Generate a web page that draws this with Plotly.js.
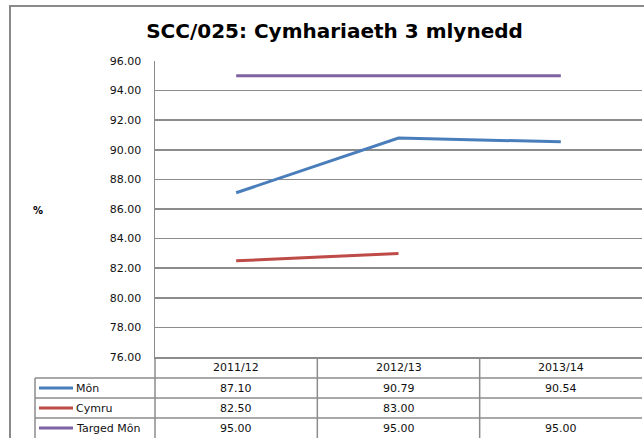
<!DOCTYPE html>
<html>
<head>
<meta charset="utf-8">
<script src="https://cdn.plot.ly/plotly-3.0.1.min.js"></script>
<style>
  html, body { margin: 0; padding: 0; background: #fff; }
  #chart { width: 644px; height: 438px; }
</style>
</head>
<body>
<div id="chart"></div>
<script>
// ---- data ----
const categories = ['2011/12', '2012/13', '2013/14'];
const monValues = [87.10, 90.79, 90.54];
const cymruValues = [82.50, 83.00, null];
const targedValues = [95.00, 95.00, 95.00];
const seriesNames = ['Môn', 'Cymru', 'Targed Môn'];
const chartTitle = 'SCC/025: Cymhariaeth 3 mlynedd';
const yAxisLabel = '%';

// ---- styles / geometry ----
const seriesColors = ['#4a7ebb', '#be4b48', '#7f62a1'];
const gridColor = '#8c8c8c';
const W = 644, H = 438;
const L = 155, R = 642, T = 61, B = 357;
const px = x => (x - L) / (R - L);
const py = y => (B - y) / (B - T);
const font = 'DejaVu Sans, Verdana, sans-serif';

const seriesValues = [monValues, cymruValues, targedValues];

const traces = seriesValues.map((vals, i) => ({
  type: 'scatter',
  mode: 'lines',
  x: categories,
  y: vals,
  name: seriesNames[i],
  line: { color: seriesColors[i], width: 3 },
  connectgaps: false,
  hoverinfo: 'skip'
}));

// table geometry (pixels)
const headerTop = B, headerBottom = 378;
const rowBounds = [[378, 398], [398, 418], [418, 438]];
const legendLeft = 35;

const shapes = [];
const annotations = [];
const lineStyle = { color: gridColor, width: 1.5 };

// outer chart border
shapes.push({ type: 'rect', xref: 'paper', yref: 'paper',
  x0: px(10), x1: px(720), y0: py(520), y1: py(6),
  line: { color: '#8a8a8a', width: 2 }, fillcolor: 'rgba(0,0,0,0)', layer: 'below' });

// horizontal table lines
rowBounds.forEach(([top, bottom]) => {
  shapes.push({ type: 'line', xref: 'paper', yref: 'paper',
    x0: px(legendLeft), x1: px(R), y0: py(top), y1: py(top), line: lineStyle });
});
// vertical lines: plot-left continuation and column boundaries
const nCat = categories.length;
for (let k = 0; k < nCat; k++) {
  shapes.push({ type: 'line', xref: 'paper', yref: 'paper',
    x0: k / nCat, x1: k / nCat, y0: py(headerTop), y1: py(440), line: lineStyle });
}
// legend column left border
shapes.push({ type: 'line', xref: 'paper', yref: 'paper',
  x0: px(legendLeft), x1: px(legendLeft), y0: py(headerBottom), y1: py(440), line: lineStyle });

const tableFont = { family: font, size: 11, color: '#111' };

// header cells (category labels)
categories.forEach(c => {
  annotations.push({ x: c, xref: 'x', y: py((headerTop + headerBottom) / 2), yref: 'paper',
    text: c, showarrow: false, xanchor: 'center', yanchor: 'middle', font: tableFont });
});

// data rows
seriesValues.forEach((vals, i) => {
  const yc = py((rowBounds[i][0] + rowBounds[i][1]) / 2);
  // legend key
  shapes.push({ type: 'line', xref: 'paper', yref: 'paper',
    x0: px(39), x1: px(73), y0: yc, y1: yc,
    line: { color: seriesColors[i], width: 3 } });
  annotations.push({ x: px(74), xref: 'paper', y: yc, yref: 'paper',
    text: seriesNames[i], showarrow: false, xanchor: 'left', yanchor: 'middle', font: tableFont });
  vals.forEach((v, j) => {
    if (v === null) return;
    annotations.push({ x: categories[j], xref: 'x', y: yc, yref: 'paper',
      text: v.toFixed(2), showarrow: false, xanchor: 'center', yanchor: 'middle', font: tableFont });
  });
});

// y-axis label
annotations.push({ x: px(37.5), xref: 'paper', y: py(210), yref: 'paper', text: yAxisLabel,
  showarrow: false, xanchor: 'center', yanchor: 'middle',
  font: { family: font, size: 10, color: '#000', weight: 700 } });

const layout = {
  width: W, height: H,
  margin: { l: L, r: W - R, t: T, b: H - B, pad: 0 },
  paper_bgcolor: '#fff', plot_bgcolor: '#fff',
  showlegend: false,
  title: { text: chartTitle, xref: 'container', x: 334.5 / W, xanchor: 'center',
    yref: 'container', y: 1 - 31 / H, yanchor: 'middle',
    font: { family: font, size: 20, weight: 700, color: '#000' } },
  xaxis: { type: 'category', range: [-0.5, 2.5], showticklabels: false, showgrid: false,
    zeroline: false, showline: true, linecolor: gridColor, linewidth: 1.5, ticks: '' },
  yaxis: { range: [76, 96], dtick: 2, tick0: 76, tickformat: '.2f', showgrid: true,
    gridcolor: gridColor, gridwidth: 1.5, zeroline: false, showline: true,
    linecolor: gridColor, linewidth: 1.5, ticks: '', ticklabelstandoff: 10,
    tickfont: { family: font, size: 11, color: '#111' } },
  shapes: shapes,
  annotations: annotations
};

Plotly.newPlot('chart', traces, layout, { displayModeBar: false, staticPlot: true });
</script>
</body>
</html>
